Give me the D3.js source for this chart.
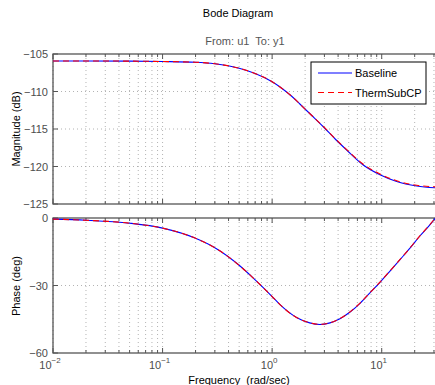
<!DOCTYPE html>
<html lang="en">
<head>
<meta charset="UTF-8">
<title>Bode Diagram</title>
<script src="https://d3js.org/d3.v7.min.js"></script>
<style>
  body { margin: 0; background: #fff; }
  svg { font-family: "Liberation Sans", Arial, sans-serif; }
  .tick-label { fill: #4d4d4d; font-size: 11px; }
</style>
</head>
<body>
<div id="chart"></div>
<script>
// frequencies (rad/sec)
const freq = [0.01, 0.02, 0.05, 0.1, 0.2, 0.3, 0.5, 0.7, 1.0, 1.18, 1.5, 1.8, 2.3, 2.93, 3.8, 4.79, 6.79, 9.64, 13.7, 20.9, 31.3];

// magnitude (dB)
const magBaseline = [-105.93, -105.93, -105.95, -106.0, -106.1, -106.3, -106.9, -107.6, -108.7, -109.4, -110.6, -111.7, -113.2, -114.7, -116.4, -117.8, -119.8, -121.1, -122.0, -122.6, -122.85];
const magThermSubCP = [-105.93, -105.93, -105.95, -106.0, -106.1, -106.3, -106.9, -107.6, -108.7, -109.4, -110.6, -111.7, -113.2, -114.65, -116.35, -117.75, -119.7, -121.0, -121.9, -122.5, -122.7];

// phase (deg)
const phaseFreq = [0.01, 0.02, 0.05, 0.1, 0.2, 0.3, 0.5, 0.7, 1.0, 1.18, 1.67, 2.2, 2.73, 3.37, 4.16, 5.14, 6.34, 7.81, 9.64, 11.9, 14.7, 18.2, 22.3, 26.9, 31.3];
const phaseBaseline = [-0.5, -1.0, -2.3, -4.5, -9.0, -13.2, -21.0, -27.5, -34.9, -38.5, -44.2, -46.6, -47.3, -46.6, -44.8, -41.8, -37.9, -33.3, -28.6, -23.6, -18.5, -13.3, -8.0, -3.6, 0.3];
const phaseThermSubCP = [-0.5, -1.0, -2.3, -4.5, -9.0, -13.2, -21.0, -27.5, -34.9, -38.5, -44.2, -46.6, -47.3, -46.6, -44.7, -41.7, -37.8, -33.2, -28.5, -23.5, -18.4, -13.2, -7.9, -3.5, 0.4];

const magTicks = [-105, -110, -115, -120, -125];
const phaseTicks = [0, -30, -60];
const decadeTicks = [0.01, 0.1, 1, 10];
const decadeLabels = ["\u22122", "\u22121", "0", "1"];
const seriesNames = ["Baseline", "ThermSubCP"];

const W = 435, H = 385;
const svg = d3.select("#chart").append("svg")
    .attr("width", W).attr("height", H);

const x = d3.scaleLog().domain([0.01, 31.3]).range([53, 436]);
const yMag = d3.scaleLinear().domain([-125, -105]).range([204, 54]);
const yPh = d3.scaleLinear().domain([-60, 0]).range([353, 218]);

// minor positions for grid + ticks
const minor = [];
[0.01, 0.1, 1, 10].forEach(function(d) {
    for (let k = 2; k <= 9; k++) {
        const v = d * k;
        if (v < x.domain()[1]) minor.push(v);
    }
});

svg.append("clipPath").attr("id", "clipMag").append("rect")
    .attr("x", 53).attr("y", 54).attr("width", 383).attr("height", 150);
svg.append("clipPath").attr("id", "clipPh").append("rect")
    .attr("x", 53).attr("y", 218).attr("width", 383).attr("height", 135);

function drawAxes(y, ticks) {
    const top = y.range()[1], bot = y.range()[0];
    const g = svg.append("g");

    // vertical dotted grid
    g.selectAll(".vg").data(decadeTicks.concat(minor)).enter().append("line")
        .attr("x1", d => x(d)).attr("x2", d => x(d))
        .attr("y1", top).attr("y2", bot)
        .attr("stroke", "#a0a0a0").attr("stroke-width", 0.8)
        .attr("stroke-dasharray", "1,3");

    // horizontal dotted grid
    g.selectAll(".hg").data(ticks.slice(1, -1)).enter().append("line")
        .attr("x1", 53).attr("x2", 436)
        .attr("y1", d => y(d)).attr("y2", d => y(d))
        .attr("stroke", "#a0a0a0").attr("stroke-width", 0.8)
        .attr("stroke-dasharray", "1,3");

    // x ticks on top and bottom edges
    decadeTicks.forEach(function(d) {
        g.append("line").attr("x1", x(d)).attr("x2", x(d)).attr("y1", bot).attr("y2", bot - 5).attr("stroke", "#555");
        g.append("line").attr("x1", x(d)).attr("x2", x(d)).attr("y1", top).attr("y2", top + 5).attr("stroke", "#555");
    });
    minor.forEach(function(d) {
        g.append("line").attr("x1", x(d)).attr("x2", x(d)).attr("y1", bot).attr("y2", bot - 3).attr("stroke", "#555");
        g.append("line").attr("x1", x(d)).attr("x2", x(d)).attr("y1", top).attr("y2", top + 3).attr("stroke", "#555");
    });

    // y ticks + labels
    ticks.forEach(function(d) {
        g.append("line").attr("x1", 53).attr("x2", 58).attr("y1", y(d)).attr("y2", y(d)).attr("stroke", "#555");
        g.append("text").attr("class", "tick-label")
            .attr("x", 48).attr("y", y(d) + 4)
            .attr("text-anchor", "end")
            .text(d === 0 ? "0" : "\u2212" + Math.abs(d));
    });

    // box
    g.append("rect").attr("x", 53).attr("y", top)
        .attr("width", 383).attr("height", bot - top)
        .attr("fill", "none").attr("stroke", "#555").attr("stroke-width", 1.3);
    return g;
}

drawAxes(yMag, magTicks);
drawAxes(yPh, phaseTicks);

function drawCurve(xs, ys, y, clipId, color, dash) {
    const line = d3.line().x((d, i) => x(xs[i])).y(d => y(d)).curve(d3.curveMonotoneX);
    svg.append("path").datum(ys)
        .attr("clip-path", "url(#" + clipId + ")")
        .attr("fill", "none").attr("stroke", color).attr("stroke-width", 1.1)
        .attr("stroke-dasharray", dash)
        .attr("d", line);
}

drawCurve(freq, magBaseline, yMag, "clipMag", "#0000ff", null);
drawCurve(freq, magThermSubCP, yMag, "clipMag", "#ff0000", "6,4");
drawCurve(phaseFreq, phaseBaseline, yPh, "clipPh", "#0000ff", null);
drawCurve(phaseFreq, phaseThermSubCP, yPh, "clipPh", "#ff0000", "6,4");

// x tick labels (10^n)
decadeTicks.forEach(function(d, i) {
    const t = svg.append("text").attr("class", "tick-label")
        .attr("x", x(d) - 3).attr("y", 369).attr("text-anchor", "middle").attr("font-size", 12);
    t.append("tspan").text("10");
    t.append("tspan").attr("dy", -6).attr("font-size", 8).text(decadeLabels[i]);
});

// legend
const lg = svg.append("g");
lg.append("rect").attr("x", 311).attr("y", 62).attr("width", 115).attr("height", 42)
    .attr("fill", "#fff").attr("stroke", "#000").attr("stroke-width", 1);
const colors = ["#0000ff", "#ff0000"];
const dashes = [null, "6,4"];
seriesNames.forEach(function(name, i) {
    const yy = 73 + i * 19.5;
    lg.append("line").attr("x1", 318).attr("x2", 352).attr("y1", yy).attr("y2", yy)
        .attr("stroke", colors[i]).attr("stroke-width", 1.1).attr("stroke-dasharray", dashes[i]);
    lg.append("text").attr("x", 355).attr("y", yy + 4).attr("font-size", 11).attr("fill", "#000").text(name);
});

// titles and axis labels
svg.append("text").attr("x", 238).attr("y", 17).attr("text-anchor", "middle")
    .attr("font-size", 11).attr("fill", "#000").text("Bode Diagram");
svg.append("text").attr("x", 245).attr("y", 45).attr("text-anchor", "middle")
    .attr("font-size", 11).attr("fill", "#555").style("white-space", "pre").text("From: u1  To: y1");
svg.append("text").attr("x", 239).attr("y", 384).attr("text-anchor", "middle")
    .attr("font-size", 11).attr("fill", "#000").style("white-space", "pre").text("Frequency  (rad/sec)");
svg.append("text").attr("transform", "translate(20,129) rotate(-90)").attr("text-anchor", "middle")
    .attr("font-size", 11).attr("fill", "#000").text("Magnitude (dB)");
svg.append("text").attr("transform", "translate(20,286) rotate(-90)").attr("text-anchor", "middle")
    .attr("font-size", 11).attr("fill", "#000").text("Phase (deg)");
</script>
</body>
</html>
